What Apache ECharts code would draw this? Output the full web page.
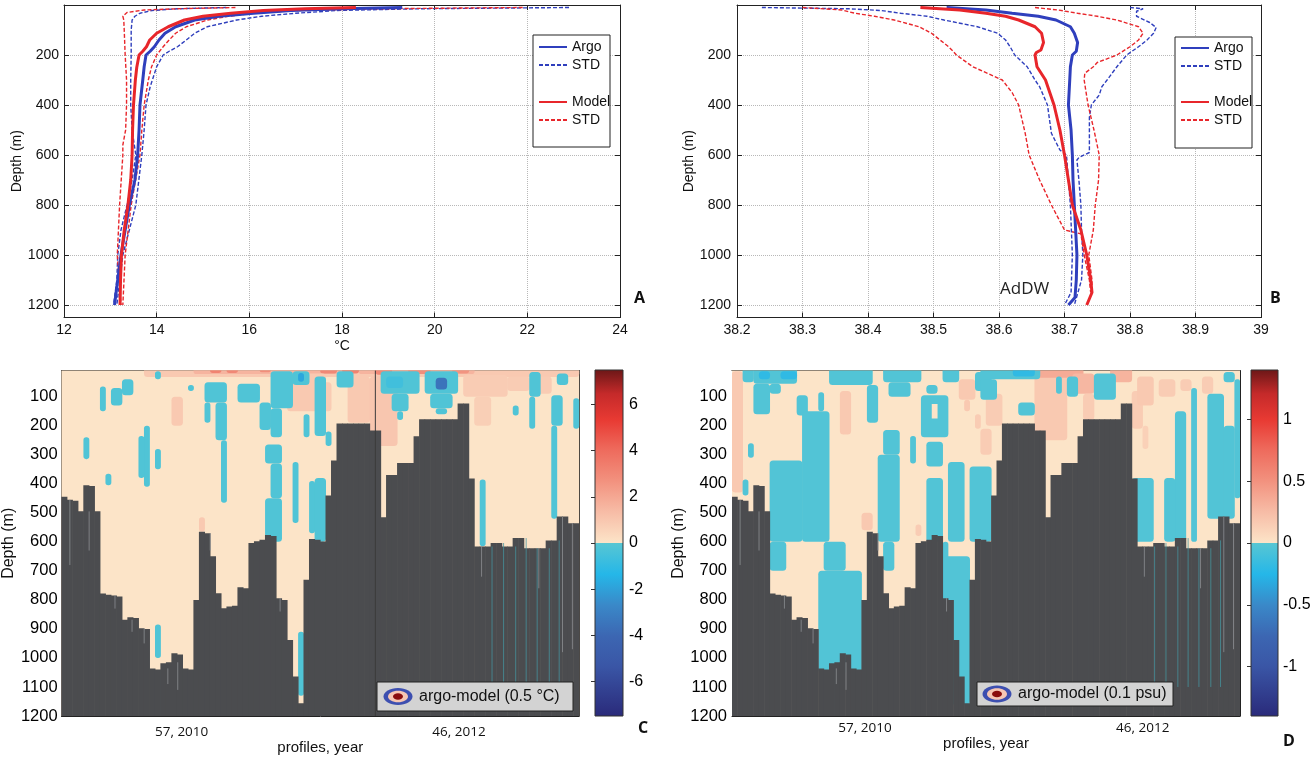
<!DOCTYPE html>
<html>
<head>
<meta charset="utf-8">
<title>Argo vs model profiles</title>
<script src="https://cdn.jsdelivr.net/npm/echarts@6.0.0/dist/echarts.min.js"></script>
<style>
html,body{margin:0;padding:0;background:#ffffff;}
#chart{width:1316px;height:759px;}
</style>
</head>
<body>
<div id="chart"></div>
<script>
// ================= DATA =================
// Panel A: temperature (°C) profiles, entries [depth m, value]
const argoTemp = [[10,19.3],[15,18.0],[22,16.9],[33,16.09],[45,15.35],[60,14.82],[87,14.41],[113,14.18],[140,14.05],[167,13.95],[185,13.86],[200,13.77],[247,13.73],[300,13.70],[400,13.64],[500,13.62],[600,13.59],[700,13.53],[800,13.41],[900,13.32],[1000,13.23],[1100,13.16],[1200,13.09]];
const argoTempStdHi = [[10,22.9],[15,19.7],[22,17.9],[33,17.0],[45,16.27],[60,15.73],[87,15.09],[113,14.82],[140,14.64],[167,14.45],[185,14.27],[200,14.14],[247,14.0],[327,13.86],[400,13.77],[500,13.73],[600,13.68],[800,13.55],[1000,13.27],[1200,13.14]];
const argoTempStdLo = [[10,15.5],[15,14.45],[22,13.9],[33,13.64],[45,13.53],[60,13.47],[100,13.45],[200,13.45],[300,13.44],[400,13.44],[500,13.47],[600,13.55],[700,13.47],[800,13.36],[900,13.23],[1000,13.16],[1100,13.14],[1200,13.07]];
const modelTemp = [[10,18.3],[15,17.2],[22,16.3],[33,15.6],[45,15.0],[60,14.6],[87,14.25],[113,14.0],[140,13.85],[167,13.78],[185,13.7],[200,13.62],[250,13.57],[300,13.54],[400,13.5],[500,13.48],[600,13.47],[700,13.44],[800,13.38],[900,13.3],[1000,13.24],[1100,13.22],[1200,13.21]];
const modelTempStdHi = [[10,21.9],[15,18.8],[22,17.0],[33,16.1],[45,15.55],[60,15.1],[87,14.64],[113,14.41],[140,14.27],[167,14.14],[200,14.0],[247,13.89],[300,13.82],[400,13.73],[500,13.68],[600,13.64],[800,13.45],[1000,13.32],[1200,13.27]];
const modelTempStdLo = [[10,15.7],[15,14.45],[20,13.73],[30,13.36],[45,13.27],[60,13.29],[100,13.3],[200,13.32],[300,13.35],[400,13.35],[500,13.33],[560,13.27],[600,13.27],[800,13.2],[1000,13.15],[1200,13.23]];

// Panel B: salinity profiles, entries [depth m, value]
const argoSal = [[10,38.52],[20,38.58],[33,38.62],[45,38.66],[60,38.687],[87,38.709],[113,38.715],[150,38.72],[185,38.718],[200,38.712],[247,38.709],[300,38.708],[400,38.706],[500,38.71],[600,38.712],[700,38.713],[800,38.715],[900,38.717],[1000,38.719],[1100,38.718],[1170,38.716],[1200,38.706]];
const argoSalStdLo = [[10,38.238],[15,38.37],[22,38.42],[33,38.45],[45,38.49],[60,38.516],[87,38.567],[113,38.598],[140,38.61],[167,38.617],[200,38.624],[247,38.643],[300,38.655],[327,38.662],[400,38.674],[513,38.68],[580,38.693],[600,38.703],[700,38.706],[800,38.709],[1000,38.712],[1150,38.71],[1200,38.700]];
const argoSalStdHi = [[10,38.80],[15,38.82],[25,38.81],[45,38.81],[70,38.83],[90,38.84],[113,38.836],[140,38.826],[167,38.813],[200,38.795],[247,38.78],[300,38.765],[327,38.757],[360,38.753],[400,38.741],[450,38.738],[550,38.738],[590,38.738],[610,38.722],[620,38.719],[700,38.722],[800,38.725],[900,38.726],[1000,38.728],[1100,38.726],[1200,38.715]];
const modelSal = [[10,38.48],[20,38.54],[33,38.58],[45,38.61],[60,38.63],[87,38.655],[113,38.665],[150,38.668],[180,38.664],[190,38.657],[200,38.655],[247,38.658],[300,38.671],[400,38.684],[500,38.693],[600,38.70],[700,38.706],[800,38.712],[900,38.725],[1000,38.734],[1100,38.74],[1150,38.742],[1200,38.734]];
const modelSalStdLo = [[10,38.30],[20,38.36],[33,38.38],[45,38.41],[60,38.44],[87,38.478],[113,38.497],[140,38.51],[167,38.523],[185,38.53],[200,38.535],[247,38.56],[300,38.605],[350,38.62],[400,38.63],[513,38.64],[600,38.646],[700,38.662],[800,38.68],[900,38.70],[915,38.725],[1000,38.73],[1100,38.738],[1150,38.74]];
const modelSalStdHi = [[10,38.655],[20,38.69],[33,38.72],[45,38.75],[60,38.78],[87,38.813],[113,38.82],[140,38.813],[167,38.80],[200,38.78],[230,38.75],[247,38.744],[273,38.731],[300,38.73],[400,38.736],[500,38.745],[600,38.753],[700,38.752],[800,38.747],[900,38.744],[1000,38.737],[1100,38.742],[1150,38.742]];

// Panels C/D: profile index (0..93), bottom depth of each profile (m)
const bottomDepth = [445,455,458,495,405,408,495,778,782,785,788,868,860,862,898,900,1036,1040,1018,1015,984,988,1036,1040,800,565,570,650,777,829,823,820,756,760,604,598,593,576,580,794,800,938,1064,1156,731,590,593,599,440,320,192,192,192,192,192,192,216,216,515,370,370,328,328,328,236,178,178,178,178,178,178,178,123,123,382,616,616,616,604,604,616,616,587,587,622,622,622,622,595,595,513,513,536,536];
// single deeper casts seen as thin lines below the bottom: [profile position, top depth, bottom depth, kind (0 grey, 1 teal)]
const deepCasts = [[1,455,680,0],[4.5,495,630,0],[9.2,785,830,0],[12.3,868,910,0],[14.5,898,950,0],[18.8,1036,1090,0],[20.6,1015,1110,0],[26.5,570,630,0],[39.2,794,840,0],
  [75.8,616,720,0],[86.2,622,760,0],[90.5,513,980,0],[92.3,536,970,0],
  [77.7,616,1100,1],[79.8,604,1100,1],[82,616,1100,1],[83.9,587,1100,1],[85.9,622,1100,1],[88.1,622,1100,1],[89.9,595,1100,1]];
const yearBoundary = 56.5;           // after 57 profiles of 2010
const profileLabels = ['57, 2010', '46, 2012'];
const profileLabelPosC = [21.3, 71.7];
const profileLabelPosD = [24.1, 75.5];
const depthTicksCD = [100,200,300,400,500,600,700,800,900,1000,1100,1200];

// Field C: argo-model temperature difference (°C): [firstProfile, lastProfile, topDepth, bottomDepth, value]
const diffTemp = [
  [0,93,0,1200,0],
  [15,93,0,32,0.9],[24,50,0,22,1.6],[54,74,0,22,1.6],
  [27,28,0,18,3.2],[30,31,0,18,3.0],[36,37,0,16,2.8],[47,49,0,20,3.0],[51,53,0,20,3.2],[57,59,0,24,3.0],[63,66,0,22,2.8],[71,73,0,20,2.6],
  [20,21,100,200,0.9],[41,47,20,150,0.9],[47,48,50,150,0.8],[52,55,30,190,0.9],[56,60,30,270,1.0],[73,80,25,100,0.8],[75,77,100,200,0.7],[81,84,30,80,0.8],[86,88,30,90,0.8],[25,25,515,565,0.9],
  [7,7,65,150,-0.2],[9,10,70,130,-0.2],[11,12,40,95,-0.2],[17,17,12,40,-0.2],[23,23,60,80,-0.2],
  [26,29,50,120,-0.2],[26,26,120,190,-0.2],[28,29,120,250,-0.2],[29,29,250,465,-0.2],
  [32,35,55,120,-0.2],[36,37,120,215,-0.2],[38,41,12,140,-0.2],[38,39,140,240,-0.2],
  [42,44,12,60,-0.2],[43,43,18,48,-1.8],[44,44,160,240,-0.2],[46,47,30,235,-0.2],
  [4,4,240,315,-0.2],[15,15,200,410,-0.2],[14,14,235,380,-0.2],[17,17,280,350,-0.2],[8,8,365,405,-0.2],
  [37,39,265,330,-0.2],[38,39,330,450,-0.2],[37,39,450,600,-0.2],[42,42,325,535,-0.2],[45,45,390,570,-0.2],[46,47,380,600,-0.2],
  [17,17,885,1000,-0.2],[43,43,910,1130,-0.2],
  [50,52,12,68,-0.2],[48,48,220,270,-0.2],[58,64,12,90,-0.2],[60,62,90,150,-0.2],[61,61,150,180,-0.2],[59,61,30,70,-0.6],
  [66,71,12,90,-0.2],[67,70,90,140,-0.2],[68,69,140,160,-0.2],[68,69,35,75,-3.5],
  [82,82,130,165,-0.2],[85,86,15,100,-0.2],[85,85,100,210,-0.2],[89,90,95,200,-0.2],[89,89,200,520,-0.2],[90,91,20,60,-0.2],[93,93,105,210,-0.2],[76,76,385,615,-0.2]
];

// Field D: argo-model salinity difference (psu)
const diffSal = [
  [0,93,0,1200,0],
  [0,1,12,430,0.17],[20,21,80,230,0.17],[42,44,40,110,0.17],[43,43,110,150,0.17],[45,45,160,210,0.15],[47,49,90,200,0.15],[46,47,210,300,0.15],
  [56,61,12,250,0.17],[55,64,0,35,0.35],[63,66,20,90,0.28],[65,66,90,180,0.15],[70,73,0,50,0.3],[74,75,80,210,0.15],[75,77,30,130,0.17],[79,81,40,100,0.15],[83,84,40,80,0.15],[87,88,30,90,0.15],[76,76,200,280,0.12],[24,25,500,560,0.17],[34,34,540,580,0.15],
  [2,3,0,50,-0.03],[4,11,0,55,-0.03],[5,6,12,40,-0.2],[9,11,12,40,-0.2],[4,6,55,160,-0.03],[7,8,55,90,-0.03],
  [12,13,95,165,-0.03],[16,16,85,150,-0.03],[13,17,150,600,-0.03],[18,25,0,60,-0.03],[25,26,60,190,-0.03],
  [28,34,0,50,-0.03],[29,32,50,100,-0.03],[35,39,95,240,-0.03],[37,37,125,175,0],[36,37,60,90,-0.03],
  [33,33,235,330,-0.03],[36,38,255,340,-0.03],[28,30,215,300,-0.03],[27,30,300,600,-0.03],[28,29,600,700,-0.03],
  [3,3,260,310,-0.03],[2,2,385,440,-0.03],[7,12,320,600,-0.03],[7,9,600,700,-0.03],[17,20,600,700,-0.03],[16,23,700,1050,-0.03],
  [36,38,380,600,-0.03],[40,42,325,600,-0.03],[44,47,340,600,-0.03],[39,39,600,800,-0.03],[39,43,650,1160,-0.03],
  [39,41,0,50,-0.03],[45,47,15,80,-0.03],[46,56,0,40,-0.03],[52,55,0,30,-0.2],[46,48,40,110,-0.03],[53,55,120,165,-0.03],
  [60,60,30,90,-0.03],[62,63,30,100,-0.03],[67,70,20,110,-0.03],
  [82,83,150,600,-0.03],[80,81,380,600,-0.03],[74,77,380,600,-0.03],[85,85,70,600,-0.03],[88,90,90,520,-0.03],[91,92,200,520,-0.03],[91,92,15,50,-0.03],[93,93,40,450,-0.03]
];

// colour scale limits and ticks
const tempLimit = 7.5, salLimit = 1.4;
const tempBarTicks = [-6,-4,-2,0,2,4,6];
const salBarTicks = [-1,-0.5,0,0.5,1];

// ================= STYLE =================
const FONT = "'Liberation Sans', Arial, sans-serif";
const BLUE = '#2f3fbd', RED = '#e8262b';
const AXIS = '#222';
const cmapPos = [[0,'#fce4c8'],[0.18,'#f7bca6'],[0.36,'#f2917e'],[0.54,'#ee6a5c'],[0.71,'#e83a33'],[0.86,'#c52a2a'],[1,'#6b1717']];
const cmapNeg = [[0,'#58c6d3'],[0.18,'#25b7e8'],[0.36,'#3a88c8'],[0.54,'#3c66b2'],[0.71,'#3a56a6'],[1,'#2a2a7a']];
function hex2rgb(h){return [parseInt(h.slice(1,3),16),parseInt(h.slice(3,5),16),parseInt(h.slice(5,7),16)];}
function cmap(t){
  const arr = t >= 0 ? cmapPos : cmapNeg;
  const a = Math.min(1, Math.abs(t));
  for (let i = 1; i < arr.length; i++) {
    if (a <= arr[i][0]) {
      const f = (a - arr[i-1][0]) / (arr[i][0] - arr[i-1][0]);
      const c0 = hex2rgb(arr[i-1][1]), c1 = hex2rgb(arr[i][1]);
      return 'rgb(' + c0.map((c,k)=>Math.round(c + (c1[k]-c)*f)).join(',') + ')';
    }
  }
  return arr[arr.length-1][1];
}
const barStops = cmapPos.map(s=>({offset:(1-s[0])/2,color:s[1]})).reverse()
  .concat(cmapNeg.map(s=>({offset:(1+s[0])/2,color:s[1]})))
  .sort((a,b)=>a.offset-b.offset);

function toXY(arr){return arr.map(p=>[p[1],p[0]]);}
const plain = v => String(v);

function lineSeries(name, data, color, dashed, xi, yi){
  return {type:'line', name:name, data:toXY(data), xAxisIndex:xi, yAxisIndex:yi,
    symbol:'none', showSymbol:false, smooth:false, z:3,
    lineStyle:{color:color, width:dashed?1.4:3, type:dashed?[4,2]:'solid'},
    itemStyle:{color:color}};
}

function patchRenderer(limit){
  return function(params, api){
    const a = api.coord([api.value(0)-0.5, api.value(2)]);
    const b = api.coord([api.value(1)+0.5, api.value(3)]);
    const v = api.value(4);
    const w = b[0]-a[0], h = b[1]-a[1];
    const r = v === 0 ? 0 : Math.max(0, Math.min(3.5, w/2, h/2));
    return {type:'rect', shape:{x:a[0]-0.2, y:a[1], width:w+0.4, height:h, r:r}, style:{fill:cmap(v/limit)}};
  };
}
function bottomRenderer(params, api){
  const a = api.coord([api.value(0)-0.5, api.value(1)]);
  const b = api.coord([api.value(0)+0.5, 1200]);
  return {type:'rect', shape:{x:a[0]-0.3, y:a[1], width:b[0]-a[0]+0.6, height:b[1]-a[1]}, style:{fill:'#4b4c4f'}};
}
function castRenderer(params, api){
  const a = api.coord([api.value(0), api.value(1)]);
  const b = api.coord([api.value(0), api.value(2)]);
  const teal = api.value(3) === 1;
  return {type:'line', shape:{x1:a[0], y1:a[1], x2:b[0], y2:b[1]},
    style:{stroke: teal ? 'rgba(70,150,160,0.75)' : 'rgba(140,142,146,0.8)', lineWidth:1}};
}
function barRenderer(limit){
  return function(params, api){
    const a = api.coord([0, limit]);
    const b = api.coord([1, -limit]);
    return {type:'rect', shape:{x:a[0], y:a[1], width:b[0]-a[0], height:b[1]-a[1]},
      style:{fill:{type:'linear',x:0,y:0,x2:0,y2:1,colorStops:barStops}, stroke:'#333', lineWidth:1}};
  };
}

// ---------- axes helpers ----------
function boxX(grid, min, max, interval, extra){
  return Object.assign({gridIndex:grid, type:'value', min:min, max:max, interval:interval,
    axisLine:{show:true, onZero:false, lineStyle:{color:AXIS, width:1}},
    axisTick:{show:true, inside:true, length:5, lineStyle:{color:AXIS}},
    axisLabel:{show:false}, splitLine:{show:false}}, extra||{});
}
function boxY(grid, extra){
  return Object.assign({gridIndex:grid, type:'value', inverse:true,
    axisLine:{show:true, onZero:false, lineStyle:{color:AXIS, width:1}},
    axisTick:{show:true, inside:true, length:5, lineStyle:{color:AXIS}},
    axisLabel:{show:false}, splitLine:{show:false}}, extra||{});
}
const dotted = {show:true, lineStyle:{type:'dotted', color:'#b8b8b8', width:1}};
const yNameStyle = (size)=>({fontSize:size, color:'#111', fontFamily:FONT});

const xAxes = [
  // 0 A bottom
  boxX(0, 12, 24, 2, {position:'bottom', axisLabel:{show:true, fontSize:14, color:'#111', margin:6, fontFamily:FONT, formatter:plain},
    splitLine:dotted, name:'°C', nameLocation:'middle', nameGap:22, nameTextStyle:{fontSize:14, color:'#111', fontFamily:FONT}}),
  // 1 A top
  boxX(0, 12, 24, 2, {position:'top'}),
  // 2 B bottom
  boxX(1, 38.2, 39, 0.1, {position:'bottom', axisLabel:{show:true, fontSize:14, color:'#111', margin:6, fontFamily:FONT,
    formatter:v=>(Math.abs(v-39)<1e-6?'39':v.toFixed(1))}, splitLine:dotted}),
  // 3 B top
  boxX(1, 38.2, 39, 0.1, {position:'top'}),
  // 4 C bottom
  {gridIndex:2, type:'value', min:-0.5, max:93.5, position:'bottom',
    axisLine:{show:true, onZero:false, lineStyle:{color:AXIS}},
    axisTick:{show:true, inside:true, length:5, customValues:[yearBoundary], lineStyle:{color:AXIS}},
    axisLabel:{show:true, customValues:profileLabelPosC, formatter:v=>{const i=profileLabelPosC.indexOf(v);return i<0?'':profileLabels[i];},
      fontSize:13.5, color:'#111', margin:9, fontFamily:"'Open Sans', sans-serif"},
    splitLine:{show:false}, name:'profiles, year', nameLocation:'middle', nameGap:23,
    nameTextStyle:{fontSize:15, color:'#111', fontFamily:FONT}},
  // 5 C top
  {gridIndex:2, type:'value', min:-0.5, max:93.5, position:'top', axisLine:{show:true, onZero:false, lineStyle:{color:AXIS}},
    axisTick:{show:false}, axisLabel:{show:false}, splitLine:{show:false}},
  // 6 D bottom
  {gridIndex:3, type:'value', min:-0.5, max:93.5, position:'bottom',
    axisLine:{show:true, onZero:false, lineStyle:{color:AXIS}},
    axisTick:{show:true, inside:true, length:5, customValues:[yearBoundary], lineStyle:{color:AXIS}},
    axisLabel:{show:true, customValues:profileLabelPosD, formatter:v=>{const i=profileLabelPosD.indexOf(v);return i<0?'':profileLabels[i];},
      fontSize:13.5, color:'#111', margin:5, fontFamily:"'Open Sans', sans-serif"},
    splitLine:{show:false}, name:'profiles, year', nameLocation:'middle', nameGap:19,
    nameTextStyle:{fontSize:15, color:'#111', fontFamily:FONT}},
  // 7 D top
  {gridIndex:3, type:'value', min:-0.5, max:93.5, position:'top', axisLine:{show:true, onZero:false, lineStyle:{color:AXIS}},
    axisTick:{show:false}, axisLabel:{show:false}, splitLine:{show:false}},
  // 8,9 colour bar x
  {gridIndex:4, type:'value', min:0, max:1, show:false},
  {gridIndex:5, type:'value', min:0, max:1, show:false}
];

const yAxes = [
  // 0 A left
  boxY(0, {position:'left', min:0, max:1250, interval:200,
    axisLabel:{show:true, fontSize:14, color:'#111', margin:5, fontFamily:FONT, showMinLabel:false, showMaxLabel:false, formatter:plain},
    splitLine:dotted, name:'Depth (m)', nameLocation:'middle', nameRotate:90, nameGap:40, nameTextStyle:yNameStyle(14)}),
  // 1 A right
  boxY(0, {position:'right', min:0, max:1250, interval:200}),
  // 2 B left
  boxY(1, {position:'left', min:0, max:1250, interval:200,
    axisLabel:{show:true, fontSize:14, color:'#111', margin:6, fontFamily:FONT, showMinLabel:false, showMaxLabel:false, formatter:plain},
    splitLine:dotted, name:'Depth (m)', nameLocation:'middle', nameRotate:90, nameGap:40, nameTextStyle:yNameStyle(14)}),
  // 3 B right
  boxY(1, {position:'right', min:0, max:1250, interval:200}),
  // 4 C left
  boxY(2, {position:'left', min:10, max:1200,
    axisTick:{show:true, inside:true, length:5, customValues:depthTicksCD, lineStyle:{color:AXIS}},
    axisLabel:{show:true, customValues:depthTicksCD, fontSize:16.5, color:'#000', margin:4, fontFamily:FONT, formatter:plain},
    name:'Depth (m)', nameLocation:'middle', nameRotate:90, nameGap:37, nameTextStyle:yNameStyle(16)}),
  // 5 C right
  boxY(2, {position:'right', min:10, max:1200, axisTick:{show:true, inside:true, length:5, customValues:depthTicksCD, lineStyle:{color:AXIS}}}),
  // 6 D left
  boxY(3, {position:'left', min:10, max:1200,
    axisTick:{show:true, inside:true, length:5, customValues:depthTicksCD, lineStyle:{color:AXIS}},
    axisLabel:{show:true, customValues:depthTicksCD, fontSize:16.5, color:'#000', margin:5, fontFamily:FONT, formatter:plain},
    name:'Depth (m)', nameLocation:'middle', nameRotate:90, nameGap:45, nameTextStyle:yNameStyle(16)}),
  // 7 D right
  boxY(3, {position:'right', min:10, max:1200, axisTick:{show:true, inside:true, length:5, customValues:depthTicksCD, lineStyle:{color:AXIS}}}),
  // 8 C bar right (labels)
  {gridIndex:4, type:'value', min:-tempLimit, max:tempLimit, position:'right',
    axisLine:{show:false}, axisTick:{show:true, inside:true, length:4, customValues:tempBarTicks, lineStyle:{color:'#333'}},
    axisLabel:{show:true, customValues:tempBarTicks, fontSize:16, color:'#000', margin:6, fontFamily:FONT, formatter:plain}, splitLine:{show:false}},
  // 9 C bar left
  {gridIndex:4, type:'value', min:-tempLimit, max:tempLimit, position:'left',
    axisLine:{show:false}, axisTick:{show:true, inside:true, length:4, customValues:tempBarTicks, lineStyle:{color:'#333'}},
    axisLabel:{show:false}, splitLine:{show:false}},
  // 10 D bar right
  {gridIndex:5, type:'value', min:-salLimit, max:salLimit, position:'right',
    axisLine:{show:false}, axisTick:{show:true, inside:true, length:4, customValues:salBarTicks, lineStyle:{color:'#333'}},
    axisLabel:{show:true, customValues:salBarTicks, fontSize:16, color:'#000', margin:5, fontFamily:FONT, formatter:plain}, splitLine:{show:false}},
  // 11 D bar left
  {gridIndex:5, type:'value', min:-salLimit, max:salLimit, position:'left',
    axisLine:{show:false}, axisTick:{show:true, inside:true, length:4, customValues:salBarTicks, lineStyle:{color:'#333'}},
    axisLabel:{show:false}, splitLine:{show:false}}
];

const bottomData = bottomDepth.map((d,i)=>[i,d]);
const series = [
  // A
  lineSeries('STD', argoTempStdHi, BLUE, true, 0, 0),
  lineSeries('STD', argoTempStdLo, BLUE, true, 0, 0),
  lineSeries('STD ', modelTempStdHi, RED, true, 0, 0),
  lineSeries('STD ', modelTempStdLo, RED, true, 0, 0),
  lineSeries('Argo', argoTemp, BLUE, false, 0, 0),
  lineSeries('Model', modelTemp, RED, false, 0, 0),
  // B
  lineSeries('STD', argoSalStdHi, BLUE, true, 2, 2),
  lineSeries('STD', argoSalStdLo, BLUE, true, 2, 2),
  lineSeries('STD ', modelSalStdHi, RED, true, 2, 2),
  lineSeries('STD ', modelSalStdLo, RED, true, 2, 2),
  lineSeries('Argo', argoSal, BLUE, false, 2, 2),
  lineSeries('Model', modelSal, RED, false, 2, 2),
  // C
  {type:'custom', xAxisIndex:4, yAxisIndex:4, renderItem:patchRenderer(tempLimit), data:diffTemp, clip:true, z:1, silent:true},
  {type:'custom', xAxisIndex:4, yAxisIndex:4, renderItem:bottomRenderer, data:bottomData, clip:true, z:2, silent:true},
  {type:'custom', xAxisIndex:4, yAxisIndex:4, renderItem:castRenderer, data:deepCasts, clip:true, z:3, silent:true},
  {type:'line', xAxisIndex:4, yAxisIndex:4, data:[[yearBoundary,10],[yearBoundary,1200]], symbol:'none', z:4, silent:true,
    lineStyle:{color:'#3a3a3a', width:1}},
  // D
  {type:'custom', xAxisIndex:6, yAxisIndex:6, renderItem:patchRenderer(salLimit), data:diffSal, clip:true, z:1, silent:true},
  {type:'custom', xAxisIndex:6, yAxisIndex:6, renderItem:bottomRenderer, data:bottomData, clip:true, z:2, silent:true},
  {type:'custom', xAxisIndex:6, yAxisIndex:6, renderItem:castRenderer, data:deepCasts, clip:true, z:3, silent:true},
  // colour bars
  {type:'custom', xAxisIndex:8, yAxisIndex:8, renderItem:barRenderer(tempLimit), data:[[0,0]], silent:true},
  {type:'custom', xAxisIndex:9, yAxisIndex:10, renderItem:barRenderer(salLimit), data:[[0,0]], silent:true}
];

function legendBlock(left, top, names){
  return {show:true, orient:'vertical', left:left, top:top, data:names, selectedMode:false,
    itemWidth:28, itemHeight:14, itemGap:4, padding:0, z:10,
    itemStyle:{color:'rgba(0,0,0,0)', borderColor:'rgba(0,0,0,0)', borderWidth:0, opacity:0},
    textStyle:{fontSize:14, lineHeight:14, color:'#111', fontFamily:FONT}};
}

function rangeLegend(x, y, w, h, cx, cy, label){
  return [
    {type:'rect', shape:{x:x, y:y, width:w, height:h}, style:{fill:'#d3d3d3', stroke:'#222', lineWidth:1}, z:100},
    {type:'ellipse', shape:{cx:cx, cy:cy, rx:14.5, ry:8.5}, style:{fill:'#3d4fb0'}, z:101},
    {type:'ellipse', shape:{cx:cx, cy:cy, rx:10, ry:5.8}, style:{fill:'#f6c6b3'}, z:102},
    {type:'ellipse', shape:{cx:cx, cy:cy, rx:5, ry:3.3}, style:{fill:'#8a0d0d'}, z:103},
    {type:'text', x:cx+21, y:cy, style:{text:label, fontSize:16, fontFamily:FONT, fill:'#111', verticalAlign:'middle', align:'left'}, z:104}
  ];
}

const letterStyle = {fontSize:16, fontWeight:'bold', color:'#111', fontFamily:"'Open Sans', sans-serif"};

const option = {
  animation:false,
  backgroundColor:'#ffffff',
  textStyle:{fontFamily:FONT},
  grid:[
    {left:64, top:5, width:556, height:312.5},
    {left:737, top:5, width:524, height:312.5},
    {left:58, top:370.6, width:521, height:345.4},
    {left:732, top:370.6, width:508, height:345.4},
    {left:595, top:370, width:28, height:346},
    {left:1251, top:370, width:27, height:346}
  ],
  xAxis:xAxes,
  yAxis:yAxes,
  legend:[
    legendBlock(538, 40, ['Argo','STD']),
    legendBlock(538, 95, ['Model','STD ']),
    legendBlock(1180, 41, ['Argo','STD']),
    legendBlock(1180, 95, ['Model','STD '])
  ],
  title:[
    {text:'A', left:634, top:290, padding:0, textStyle:letterStyle},
    {text:'B', left:1270, top:290, padding:0, textStyle:letterStyle},
    {text:'C', left:638, top:720, padding:0, textStyle:letterStyle},
    {text:'D', left:1283, top:733, padding:0, textStyle:letterStyle},
    {text:'AdDW', left:1000, top:281, padding:0, textStyle:{fontSize:17, fontWeight:'normal', color:'#222', fontFamily:"'Open Sans', sans-serif"}}
  ],
  graphic:{elements:[
    {type:'rect', shape:{x:533, y:35, width:77, height:112}, style:{fill:'#ffffff', stroke:'#222', lineWidth:1}, z:5},
    {type:'rect', shape:{x:1175, y:37, width:77, height:111}, style:{fill:'#ffffff', stroke:'#222', lineWidth:1}, z:5}
  ].concat(rangeLegend(377, 682, 196, 29, 398, 696.5, 'argo-model (0.5 °C)'))
   .concat(rangeLegend(977, 682, 196, 24, 997, 694, 'argo-model (0.1 psu)'))},
  series:series
};

const chart = echarts.init(document.getElementById('chart'), null, {renderer:'canvas', width:1316, height:759});
chart.setOption(option);
</script>
</body>
</html>
